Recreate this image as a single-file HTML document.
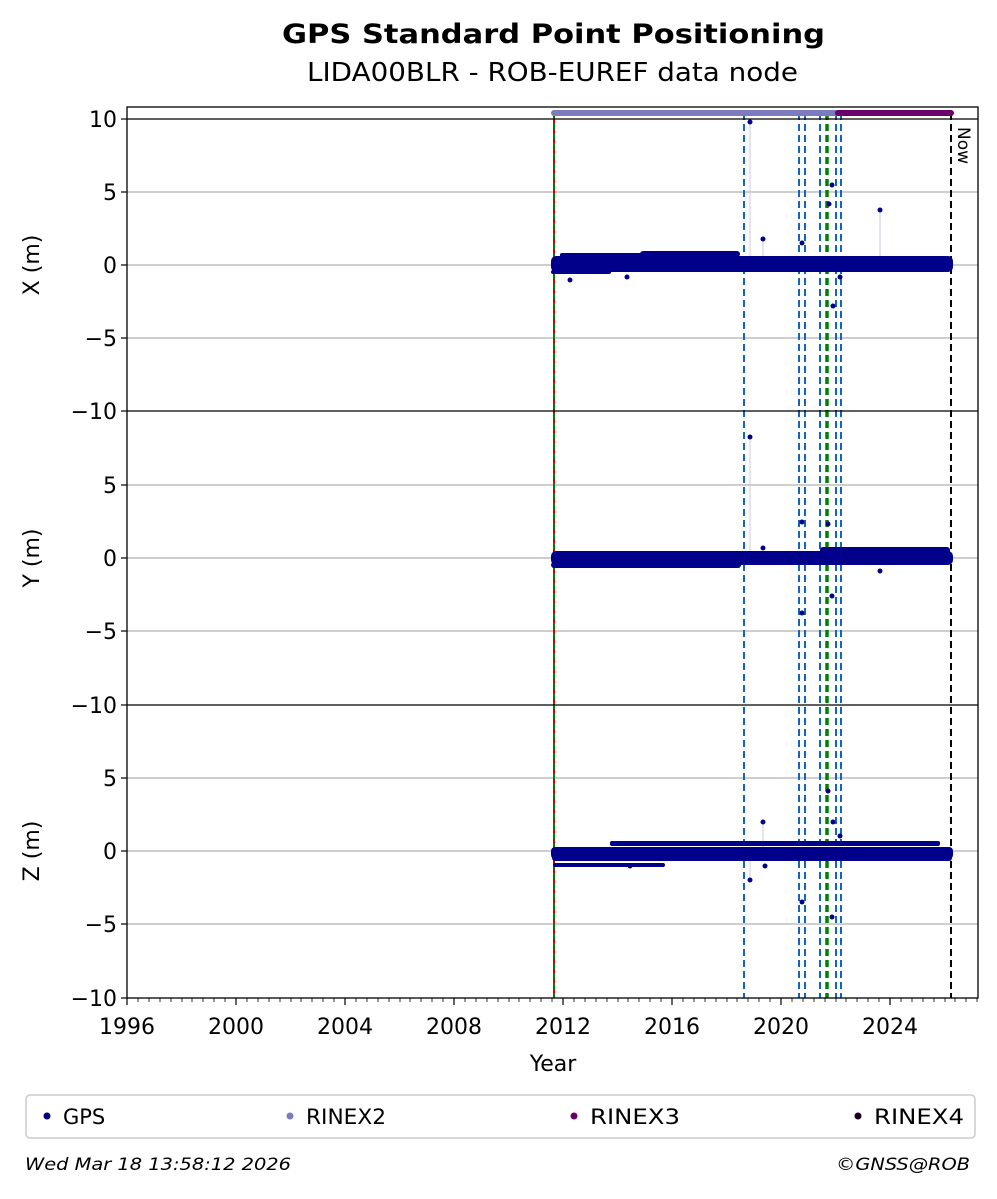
<!DOCTYPE html>
<html><head><meta charset="utf-8"><style>
body{margin:0;background:#fff;}
svg text{font-family:"DejaVu Sans","Liberation Sans",sans-serif;}
</style></head><body>
<svg width="997" height="1194" viewBox="0 0 997 1194" xmlns="http://www.w3.org/2000/svg">
<rect width="997" height="1194" fill="#fff"/>
<text x="282" y="43" font-size="27" font-weight="bold" textLength="543" lengthAdjust="spacingAndGlyphs">GPS Standard Point Positioning</text>
<text x="307" y="81" font-size="26" textLength="491" lengthAdjust="spacingAndGlyphs">LIDA00BLR - ROB-EUREF data node</text>

<g stroke="#b0b0b0" stroke-width="1.2">
<line x1="127" x2="978" y1="192" y2="192"/><line x1="127" x2="978" y1="265" y2="265"/><line x1="127" x2="978" y1="338" y2="338"/>
<line x1="127" x2="978" y1="485" y2="485"/><line x1="127" x2="978" y1="558" y2="558"/><line x1="127" x2="978" y1="631" y2="631"/>
<line x1="127" x2="978" y1="778" y2="778"/><line x1="127" x2="978" y1="851" y2="851"/><line x1="127" x2="978" y1="924" y2="924"/>
</g>

<line x1="554" x2="554" y1="113" y2="998" stroke="#d00000" stroke-width="2"/>
<line x1="554" x2="554" y1="113" y2="998" stroke="#008000" stroke-width="2" stroke-dasharray="6,4"/>
<g stroke="#1565c0" stroke-width="2" stroke-dasharray="7,4">
<line x1="744" x2="744" y1="113" y2="998"/><line x1="799" x2="799" y1="113" y2="998"/><line x1="805" x2="805" y1="113" y2="998"/>
<line x1="820" x2="820" y1="113" y2="998"/><line x1="836" x2="836" y1="113" y2="998"/><line x1="841" x2="841" y1="113" y2="998"/>
</g>
<line x1="827" x2="827" y1="113" y2="998" stroke="#008000" stroke-width="3.5" stroke-dasharray="7,4"/>
<line x1="951" x2="951" y1="113" y2="998" stroke="#000" stroke-width="2" stroke-dasharray="7,4"/>
<text x="0" y="0" font-size="17" transform="translate(958,127) rotate(90)">Now</text>

<g stroke="#c8c8e8" stroke-width="1">
<line x1="750" x2="750" y1="122" y2="265"/><line x1="763" x2="763" y1="239" y2="265"/><line x1="880" x2="880" y1="210" y2="265"/>
<line x1="750" x2="750" y1="437" y2="558"/><line x1="763" x2="763" y1="822" y2="851"/><line x1="750" x2="750" y1="851" y2="880"/>
</g>
<g fill="#00008b">
<rect x="551" y="256" width="402" height="16" rx="5"/>
<rect x="560" y="253" width="130" height="5" rx="2"/>
<rect x="640" y="251" width="100" height="6" rx="3"/>
<rect x="551" y="270" width="60" height="4" rx="2"/>
<circle cx="627" cy="277" r="2.5"/><circle cx="570" cy="280" r="2.5"/>
<circle cx="750" cy="122" r="2.5"/><circle cx="763" cy="239" r="2.5"/><circle cx="802" cy="243" r="2.5"/>
<circle cx="832" cy="185" r="2.5"/><circle cx="829" cy="204" r="2.5"/><circle cx="840" cy="277" r="2.5"/><circle cx="880" cy="210" r="2.5"/><circle cx="833" cy="306" r="2.5"/>

<rect x="551" y="551" width="402" height="14" rx="5"/>
<rect x="551" y="562" width="190" height="6" rx="3"/>
<rect x="820" y="547" width="130" height="7" rx="3"/>
<circle cx="750" cy="437" r="2.5"/><circle cx="763" cy="548" r="2.5"/><circle cx="802" cy="522" r="2.5"/><circle cx="802" cy="613" r="2.5"/>
<circle cx="828" cy="524" r="2.5"/><circle cx="832" cy="596" r="2.5"/><circle cx="880" cy="571" r="2.5"/>

<rect x="551" y="847" width="402" height="12" rx="4"/>
<rect x="552" y="855" width="400" height="6" rx="3"/>
<rect x="610" y="841" width="330" height="5" rx="2"/>
<rect x="553" y="863" width="112" height="4" rx="2"/>
<circle cx="630" cy="866" r="2.5"/><circle cx="750" cy="880" r="2.5"/><circle cx="763" cy="822" r="2.5"/><circle cx="765" cy="866" r="2.5"/>
<circle cx="802" cy="902" r="2.5"/><circle cx="832" cy="917" r="2.5"/><circle cx="828" cy="791" r="2.5"/><circle cx="833" cy="822" r="2.5"/><circle cx="840" cy="836" r="2.5"/>
</g>

<line x1="554" x2="838" y1="113" y2="113" stroke="#7b7bbf" stroke-width="6" stroke-linecap="round"/>
<line x1="838" x2="951" y1="113" y2="113" stroke="#6a006a" stroke-width="6" stroke-linecap="round"/>

<rect x="127" y="107" width="851" height="891" fill="none" stroke="#000" stroke-width="1.3"/>
<line x1="127" x2="978" y1="119" y2="119" stroke="#000" stroke-width="1.3"/>
<line x1="127" x2="978" y1="411" y2="411" stroke="#000" stroke-width="1.3"/>
<line x1="127" x2="978" y1="705" y2="705" stroke="#000" stroke-width="1.3"/>

<g stroke="#000" stroke-width="1.2">
<line x1="121" x2="127" y1="119" y2="119"/><line x1="121" x2="127" y1="192" y2="192"/><line x1="121" x2="127" y1="265" y2="265"/><line x1="121" x2="127" y1="338" y2="338"/><line x1="121" x2="127" y1="411" y2="411"/>
<line x1="121" x2="127" y1="485" y2="485"/><line x1="121" x2="127" y1="558" y2="558"/><line x1="121" x2="127" y1="631" y2="631"/><line x1="121" x2="127" y1="705" y2="705"/>
<line x1="121" x2="127" y1="778" y2="778"/><line x1="121" x2="127" y1="851" y2="851"/><line x1="121" x2="127" y1="924" y2="924"/><line x1="121" x2="127" y1="998" y2="998"/>
</g>
<g font-size="22" text-anchor="end">
<text x="117" y="127">10</text><text x="117" y="200">5</text><text x="117" y="273">0</text><text x="117" y="346">−5</text><text x="117" y="419">−10</text>
<text x="117" y="493">5</text><text x="117" y="566">0</text><text x="117" y="639">−5</text><text x="117" y="713">−10</text>
<text x="117" y="786">5</text><text x="117" y="859">0</text><text x="117" y="932">−5</text><text x="117" y="1006">−10</text>
</g>
<g font-size="22" text-anchor="middle">
<text transform="translate(39,265) rotate(-90)">X (m)</text>
<text transform="translate(39,558) rotate(-90)">Y (m)</text>
<text transform="translate(39,851) rotate(-90)">Z (m)</text>
</g>

<g stroke="#000" stroke-width="1.2">
<line x1="127" x2="127" y1="998" y2="1005"/><line x1="236" x2="236" y1="998" y2="1005"/><line x1="345" x2="345" y1="998" y2="1005"/><line x1="454" x2="454" y1="998" y2="1005"/><line x1="563" x2="563" y1="998" y2="1005"/><line x1="672" x2="672" y1="998" y2="1005"/><line x1="781" x2="781" y1="998" y2="1005"/><line x1="890" x2="890" y1="998" y2="1005"/>
</g>
<g stroke="#000" stroke-width="0.8">
<path d="M138 998v4M149 998v4M160 998v4M171 998v4M182 998v4M192 998v4M203 998v4M214 998v4M225 998v4
M247 998v4M258 998v4M269 998v4M280 998v4M291 998v4M301 998v4M312 998v4M323 998v4M334 998v4
M356 998v4M367 998v4M378 998v4M389 998v4M400 998v4M410 998v4M421 998v4M432 998v4M443 998v4
M465 998v4M476 998v4M487 998v4M498 998v4M509 998v4M519 998v4M530 998v4M541 998v4M552 998v4
M574 998v4M585 998v4M596 998v4M607 998v4M618 998v4M628 998v4M639 998v4M650 998v4M661 998v4
M683 998v4M694 998v4M705 998v4M716 998v4M727 998v4M737 998v4M748 998v4M759 998v4M770 998v4
M792 998v4M803 998v4M814 998v4M825 998v4M836 998v4M846 998v4M857 998v4M868 998v4M879 998v4
M901 998v4M912 998v4M923 998v4M934 998v4M945 998v4M955 998v4M966 998v4M977 998v4"/>
</g>
<g font-size="22" text-anchor="middle">
<text x="127" y="1034">1996</text><text x="236" y="1034">2000</text><text x="345" y="1034">2004</text><text x="454" y="1034">2008</text><text x="563" y="1034">2012</text><text x="672" y="1034">2016</text><text x="781" y="1034">2020</text><text x="890" y="1034">2024</text>
<text x="553" y="1071">Year</text>
</g>

<rect x="26" y="1095" width="949" height="43" rx="4" fill="#fff" stroke="#cccccc" stroke-width="1.5"/>
<g font-size="21">
<circle cx="47" cy="1116" r="3.5" fill="#00008b"/><text x="63" y="1124">GPS</text>
<circle cx="290" cy="1116" r="3.5" fill="#7b7bbf"/><text x="306" y="1124" textLength="80" lengthAdjust="spacingAndGlyphs">RINEX2</text>
<circle cx="574" cy="1116" r="3.5" fill="#6a006a"/><text x="590" y="1124" textLength="90" lengthAdjust="spacingAndGlyphs">RINEX3</text>
<circle cx="858" cy="1116" r="3.5" fill="#1a0020"/><text x="874" y="1124" textLength="90" lengthAdjust="spacingAndGlyphs">RINEX4</text>
</g>
<g font-size="17" font-style="italic">
<text x="25" y="1170" textLength="266" lengthAdjust="spacingAndGlyphs">Wed Mar 18 13:58:12 2026</text>
<text x="836" y="1170" textLength="134" lengthAdjust="spacingAndGlyphs">©GNSS@ROB</text>
</g>
</svg>
</body></html>
